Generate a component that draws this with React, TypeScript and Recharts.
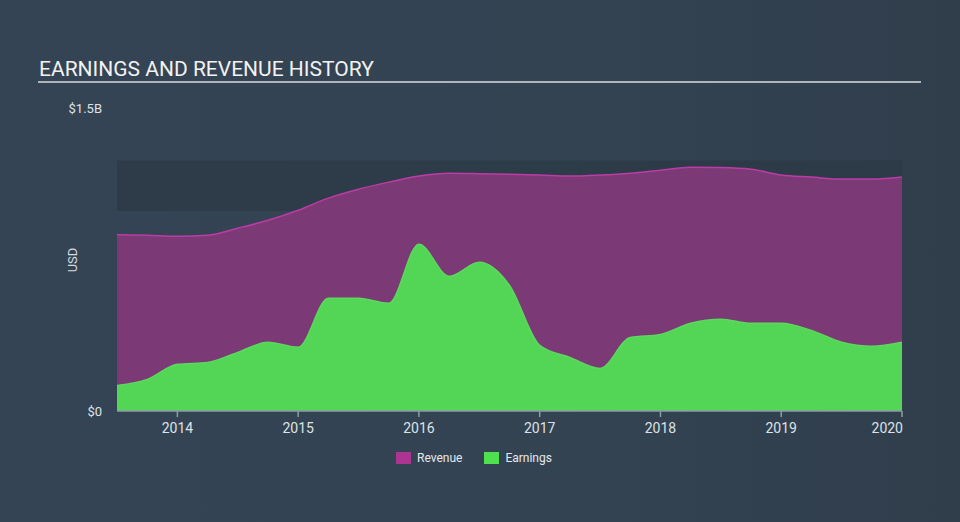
import React from 'react';
import { AreaChart, Area, XAxis, YAxis, ReferenceArea } from 'recharts';

const years = [
  2013.5, 2013.75, 2014, 2014.25, 2014.5, 2014.75, 2015, 2015.25, 2015.5, 2015.75,
  2016, 2016.25, 2016.5, 2016.75, 2017, 2017.25, 2017.5, 2017.75, 2018, 2018.25,
  2018.5, 2018.75, 2019, 2019.25, 2019.5, 2019.75, 2020,
];
const revenue = [
  0.873, 0.87, 0.865, 0.87, 0.905, 0.944, 0.994, 1.054, 1.098, 1.133,
  1.163, 1.177, 1.175, 1.172, 1.168, 1.163, 1.168, 1.177, 1.192, 1.207,
  1.205, 1.197, 1.168, 1.158, 1.148, 1.148, 1.158,
];
const earnings = [
  0.126, 0.156, 0.231, 0.24, 0.29, 0.34, 0.315, 0.558, 0.558, 0.533,
  0.826, 0.667, 0.736, 0.622, 0.325, 0.265, 0.211, 0.364, 0.379, 0.434,
  0.454, 0.434, 0.434, 0.399, 0.34, 0.32, 0.34,
];
const xTicks = [2014, 2015, 2016, 2017, 2018, 2019, 2020];
const yTicks = [0, 1.5e9];
const bandRange = [0.99e9, 1.24e9];

const data = years.map((y, i) => ({
  year: y,
  revenue: revenue[i] * 1e9,
  earnings: earnings[i] * 1e9,
}));

const fmtY = (v: number) => (v === 0 ? '$0' : `$${v / 1e9}B`);

const FONT = 'Roboto, "Open Sans", sans-serif';

const XTick = (props: any) => {
  const { x, y, payload } = props;
  const last = payload.value === xTicks[xTicks.length - 1];
  return (
    <text
      x={last ? x + 1 : x}
      y={y}
      dy={14}
      textAnchor={last ? 'end' : 'middle'}
      fill="#dde2e6"
      fontSize={14}
      fontFamily={FONT}
    >
      {payload.value}
    </text>
  );
};

export default function App() {
  return (
    <div
      style={{
        position: 'fixed',
        left: 0,
        top: 0,
        width: 960,
        height: 522,
        background: 'linear-gradient(90deg, #354454 0%, #334352 60%, #303e4c 100%)',
        fontFamily: FONT,
        overflow: 'hidden',
      }}
    >
      <div
        style={{
          position: 'absolute',
          left: 39,
          top: 57,
          fontSize: 21,
          color: '#f2f2f2',
          lineHeight: '24px',
          whiteSpace: 'nowrap',
        }}
      >
        EARNINGS AND REVENUE HISTORY
      </div>
      <div
        style={{
          position: 'absolute',
          left: 38,
          top: 81,
          width: 883,
          height: 2,
          background: '#aeb5bd',
        }}
      />
      <div
        style={{
          position: 'absolute',
          left: 72,
          top: 260,
          transform: 'translate(-50%, -50%) rotate(-90deg)',
          fontSize: 13,
          color: '#d6dbe0',
          whiteSpace: 'nowrap',
        }}
      >
        USD
      </div>
      <div style={{ position: 'absolute', left: 0, top: 0 }}>
        <AreaChart
          width={960}
          height={522}
          data={data}
          margin={{ top: 108, right: 58, bottom: 81, left: 0 }}
        >
          <ReferenceArea
            y1={bandRange[0]}
            y2={bandRange[1]}
            x1={2013.5}
            x2={2020}
            fill="#2c3947"
            fillOpacity={0.75}
            stroke="none"
            ifOverflow="extendDomain"
          />
          <XAxis
            dataKey="year"
            type="number"
            domain={[2013.5, 2020]}
            ticks={xTicks}
            height={30}
            axisLine={{ stroke: '#8e9aa6', strokeWidth: 1.5 }}
            tickLine={{ stroke: '#8e9aa6', strokeWidth: 1.5 }}
            tickSize={6}
            tick={<XTick />}
            allowDataOverflow
          />
          <YAxis
            type="number"
            domain={[0, 1.5e9]}
            ticks={yTicks}
            width={117}
            axisLine={false}
            tickLine={false}
            tickSize={0}
            tickMargin={15}
            tickFormatter={fmtY}
            tick={{ fill: '#dde2e6', fontSize: 13, fontFamily: FONT }}
          />
          <Area
            type="monotone"
            dataKey="revenue"
            stroke="#bb3ca5"
            strokeWidth={1.5}
            fill="#7b3a75"
            fillOpacity={1}
            isAnimationActive={false}
            dot={false}
            activeDot={false}
          />
          <Area
            type="monotone"
            dataKey="earnings"
            stroke="#5ada5c"
            strokeWidth={1.5}
            fill="#53d556"
            fillOpacity={1}
            isAnimationActive={false}
            dot={false}
            activeDot={false}
          />
        </AreaChart>
      </div>
      <div
        style={{
          position: 'absolute',
          left: 396,
          top: 451,
          display: 'flex',
          alignItems: 'center',
          fontSize: 12,
          color: '#e6e9ec',
          whiteSpace: 'nowrap',
        }}
      >
        <span style={{ display: 'inline-block', width: 15, height: 12, background: '#ac3593', marginRight: 6 }} />
        <span style={{ marginRight: 22 }}>Revenue</span>
        <span style={{ display: 'inline-block', width: 15, height: 12, background: '#4fe04f', marginRight: 6 }} />
        <span>Earnings</span>
      </div>
    </div>
  );
}
